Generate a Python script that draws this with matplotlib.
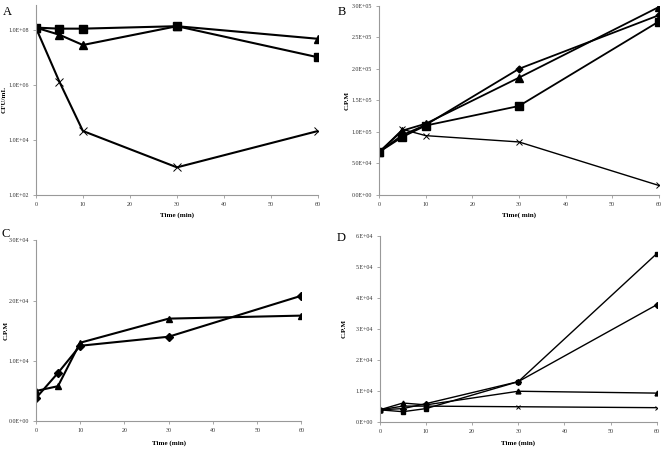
import matplotlib.pyplot as plt
from matplotlib.ticker import FuncFormatter

plt.rcParams['font.family'] = ['Liberation Serif', 'DejaVu Serif']

# time points (min)
time = [0, 5, 10, 30, 60]

# panel A - CFU/mL (log scale)
a_square = [1.2e8, 1.1e8, 1.1e8, 1.35e8, 1.0e7]
a_triangle = [1.2e8, 6.6e7, 2.8e7, 1.35e8, 4.7e7]
a_cross = [1.2e8, 1.3e6, 2.1e4, 1.0e3, 2.1e4]

# panel B - C.P.M
b_diamond = [6.8e4, 9.5e4, 1.11e5, 2.0e5, 2.85e5]
b_triangle = [6.8e4, 1.02e5, 1.13e5, 1.86e5, 2.98e5]
b_square = [6.8e4, 9.2e4, 1.1e5, 1.41e5, 2.75e5]
b_cross = [6.8e4, 1.04e5, 9.4e4, 8.4e4, 1.5e4]

# panel C - C.P.M
c_diamond = [3.8e3, 8.0e3, 1.25e4, 1.4e4, 2.08e4]
c_triangle = [5.0e3, 5.8e3, 1.3e4, 1.7e4, 1.75e4]

# panel D - C.P.M
d_square = [3.8e3, 3.2e3, 4.2e3, 1.29e4, 5.42e4]
d_diamond = [3.8e3, 4.2e3, 5.8e3, 1.29e4, 3.77e4]
d_triangle = [3.8e3, 6.0e3, 5.4e3, 9.8e3, 9.2e3]
d_cross = [3.8e3, 5.0e3, 5.0e3, 4.8e3, 4.5e3]

fig = plt.figure(figsize=(6.64, 4.49), dpi=100)

axA = fig.add_axes([0.054, 0.566, 0.425, 0.423])
axB = fig.add_axes([0.571, 0.566, 0.421, 0.421])
axC = fig.add_axes([0.054, 0.062, 0.400, 0.403])
axD = fig.add_axes([0.572, 0.061, 0.417, 0.414])


def style(ax):
    for s in ['top', 'right']:
        ax.spines[s].set_visible(False)
    for s in ['left', 'bottom']:
        ax.spines[s].set_color('#999999')
        ax.spines[s].set_linewidth(0.8)
    ax.tick_params(length=2.5, width=0.6, color='#999999', labelsize=4.3,
                   labelcolor='#333333', pad=2.5)
    ax.set_xlim(0, 60)
    ax.set_xticks(range(0, 61, 10))


def labels(ax, xl, yl, xy, yx):
    ax.set_xlabel(xl, fontsize=5, fontweight='bold')
    ax.set_ylabel(yl, fontsize=5, fontweight='bold')
    ax.xaxis.set_label_coords(0.5, xy)
    ax.yaxis.set_label_coords(yx, 0.5)


def sci(digits):
    def f(v, pos):
        if v == 0:
            m, e = 0.0, 0
        else:
            e = int(f"{v:e}".split('e')[1])
            m = v / 10 ** e
        if digits == 0:
            return f"{int(round(m))}.E+{e:02d}"
        return f"{m:.{digits}f}E+{e:02d}"
    return FuncFormatter(f)


lw = 1.5
# A
axA.plot(time, a_square, color='black', lw=lw, marker='s', ms=5.5)
axA.plot(time, a_triangle, color='black', lw=lw, marker='^', ms=5.5)
axA.plot(time, a_cross, color='black', lw=lw, marker='x', ms=6, mew=0.7)
axA.set_yscale('log')
axA.set_ylim(1e2, 8e8)
axA.set_yticks([1e2, 1e4, 1e6, 1e8])
axA.yaxis.set_minor_locator(plt.NullLocator())
axA.yaxis.set_major_formatter(sci(1))
style(axA)
labels(axA, 'Time (min)', 'CFU/mL', -0.09, -0.105)

# B
axB.plot(time, b_diamond, color='black', lw=1.3, marker='D', ms=3.5)
axB.plot(time, b_triangle, color='black', lw=1.3, marker='^', ms=5.5)
axB.plot(time, b_square, color='black', lw=1.3, marker='s', ms=5.5)
axB.plot(time, b_cross, color='black', lw=1.0, marker='x', ms=5, mew=0.7)
axB.set_ylim(0, 3e5)
axB.set_yticks([i * 5e4 for i in range(7)])
axB.yaxis.set_major_formatter(sci(1))
style(axB)
labels(axB, 'Time( min)', 'C.P.M', -0.09, -0.107)

# C
axC.plot(time, c_diamond, color='black', lw=lw, marker='D', ms=4)
axC.plot(time, c_triangle, color='black', lw=lw, marker='^', ms=5)
axC.set_ylim(0, 3e4)
axC.set_yticks([0, 1e4, 2e4, 3e4])
axC.yaxis.set_major_formatter(sci(1))
style(axC)
labels(axC, 'Time (min)', 'C.P.M', -0.105, -0.102)

# D
dlw = 1.0
axD.plot(time, d_square, color='black', lw=dlw, marker='s', ms=3.5)
axD.plot(time, d_diamond, color='black', lw=dlw, marker='D', ms=3)
axD.plot(time, d_triangle, color='black', lw=dlw, marker='^', ms=3.5)
axD.plot(time, d_cross, color='black', lw=dlw, marker='x', ms=3.5, mew=0.7)
axD.set_ylim(0, 6e4)
axD.set_yticks([i * 1e4 for i in range(7)])
axD.yaxis.set_major_formatter(sci(0))
style(axD)
labels(axD, 'Time (min)', 'C.P.M', -0.098, -0.12)

# panel letters
fig.text(0.004, 0.986, 'A', fontsize=9, va='top')
fig.text(0.508, 0.986, 'B', fontsize=9, va='top')
fig.text(0.002, 0.492, 'C', fontsize=9, va='top')
fig.text(0.507, 0.483, 'D', fontsize=9, va='top')

fig.savefig('out.png', dpi=100)
